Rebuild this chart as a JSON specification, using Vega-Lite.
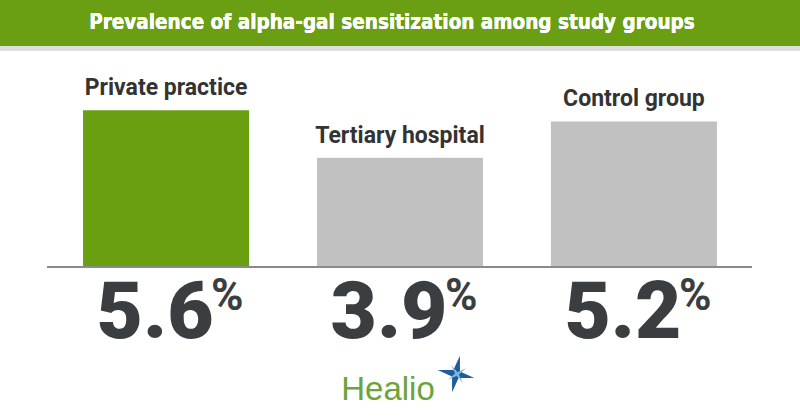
{
  "$schema": "https://vega.github.io/schema/vega-lite/v6.json",
  "width": 800,
  "height": 420,
  "padding": 0,
  "autosize": {"type": "none"},
  "background": "white",
  "config": {"view": {"stroke": null}},
  "data": {"values": [
    {"group": "Private practice", "value": 5.6},
    {"group": "Tertiary hospital", "value": 3.9},
    {"group": "Control group", "value": 5.2}
  ]},
  "encoding": {
    "x": {"field": "group", "type": "nominal", "sort": null, "axis": null, "scale": {"paddingInner": 0.29, "paddingOuter": 0.355}}
  },
  "layer": [
    {
      "mark": {"type": "bar"},
      "encoding": {
        "y": {"field": "value", "type": "quantitative", "axis": null, "scale": {"domain": [-5.464, 9.536], "nice": false, "zero": false}},
        "y2": {"datum": 0},
        "color": {"field": "group", "type": "nominal", "sort": null, "legend": null, "scale": {"domain": ["Private practice", "Tertiary hospital", "Control group"], "range": ["#6a9f11", "#c1c1c1", "#c1c1c1"]}}
      }
    },
    {
      "mark": {"type": "rect", "color": "#6a9e13"},
      "encoding": {
        "x": {"datum": "Private practice", "bandPosition": -0.5},
        "x2": {"datum": "Control group", "bandPosition": 1.5},
        "y": {"datum": 9.6},
        "y2": {"datum": 7.893}
      }
    },
    {
      "mark": {"type": "rect", "color": "#dedede"},
      "encoding": {
        "x": {"datum": "Private practice", "bandPosition": -0.5},
        "x2": {"datum": "Control group", "bandPosition": 1.5},
        "y": {"datum": 7.893},
        "y2": {"datum": 7.72}
      }
    },
    {
      "mark": {"type": "text", "color": "white", "font": "DejaVu Sans Condensed", "fontWeight": "bold", "fontSize": 20.5, "baseline": "middle", "align": "center", "dx": -8, "dy": 0, "text": "Prevalence of alpha-gal sensitization among study groups"},
      "encoding": {
        "x": {"datum": "Tertiary hospital", "bandPosition": 0.5},
        "y": {"datum": 8.714}
      }
    },
    {
      "mark": {"type": "rule", "color": "#8a8a8a", "strokeWidth": 2},
      "encoding": {
        "x": {"datum": "Private practice", "bandPosition": -0.217},
        "x2": {"datum": "Control group", "bandPosition": 1.21},
        "y": {"datum": 0}
      }
    },
    {
      "mark": {"type": "text", "font": "Roboto", "fontWeight": "bold", "fontSize": 23, "color": "#333333", "baseline": "alphabetic", "align": "center", "dy": -15},
      "encoding": {
        "y": {"field": "value", "type": "quantitative"},
        "text": {"field": "group"}
      }
    },
    {
      "mark": {"type": "text", "font": "Roboto", "fontWeight": 900, "fontSize": 80, "color": "#3a3e40", "baseline": "alphabetic", "align": "center", "dx": -11, "dy": 71},
      "encoding": {
        "y": {"datum": 0},
        "text": {"field": "value", "type": "quantitative", "format": ".1f"}
      }
    },
    {
      "mark": {"type": "text", "font": "Roboto", "fontWeight": "bold", "fontSize": 44, "color": "#3a3e40", "baseline": "alphabetic", "align": "left", "dx": 45, "dy": 43, "text": "%"},
      "encoding": {
        "y": {"datum": 0}
      }
    },
    {
      "data": {"values": [{"brand": "Healio"}]},
      "mark": {"type": "text", "font": "Liberation Sans", "fontSize": 33, "color": "#6ba43a", "baseline": "alphabetic", "align": "center", "dx": -12, "dy": 133},
      "encoding": {
        "x": {"datum": "Tertiary hospital", "bandPosition": 0.5},
        "y": {"datum": 0},
        "text": {"field": "brand"}
      }
    },
    {
      "data": {"values": [{"brand": "Healio"}]},
      "mark": {"type": "point", "filled": true, "color": "#1e5d9c", "opacity": 1, "size": 1400, "angle": 12, "xOffset": 56, "yOffset": 107, "shape": "M0,-1 L0.18,-0.18 L1,0 L0.18,0.18 L0,1 L-0.18,0.18 L-1,0 L-0.18,-0.18 Z"},
      "encoding": {
        "x": {"datum": "Tertiary hospital", "bandPosition": 0.5},
        "y": {"datum": 0}
      }
    },
    {
      "data": {"values": [{"brand": "Healio"}]},
      "mark": {"type": "point", "filled": true, "color": "#7fb6e0", "opacity": 1, "size": 500, "angle": 57, "xOffset": 57, "yOffset": 107, "shape": "M0,-1 L0.12,-0.12 L1,0 L0.12,0.12 L0,1 L-0.12,0.12 L-1,0 L-0.12,-0.12 Z"},
      "encoding": {
        "x": {"datum": "Tertiary hospital", "bandPosition": 0.5},
        "y": {"datum": 0}
      }
    }
  ]
}
